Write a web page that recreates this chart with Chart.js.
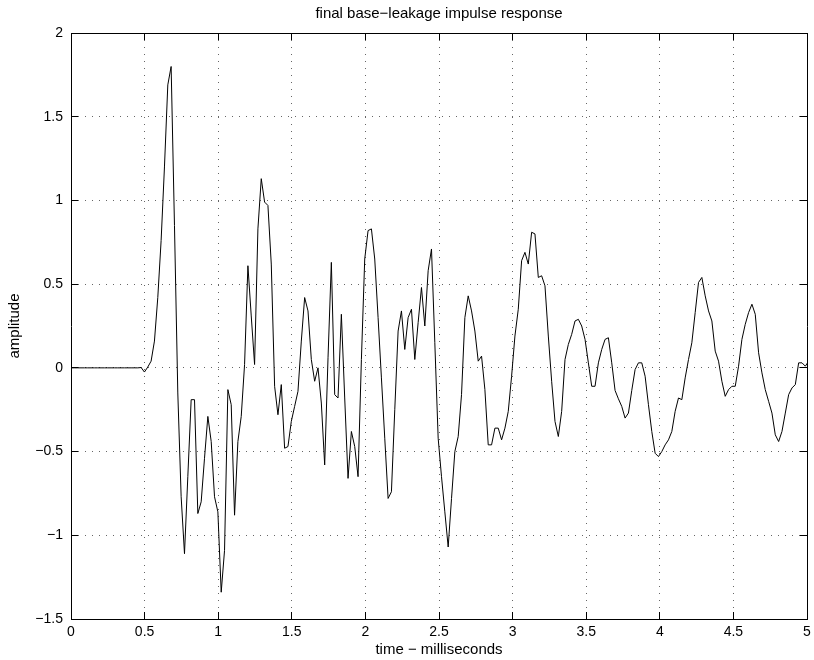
<!DOCTYPE html>
<html>
<head>
<meta charset="utf-8">
<title>final base-leakage impulse response</title>
<script src="https://cdn.jsdelivr.net/npm/chart.js@4/dist/chart.umd.min.js"></script>
<style>
	html, body { margin: 0; padding: 0; background: #fff; }
	canvas { display: block; }
</style>
</head>
<body>
<canvas id="impulse" width="814" height="660"></canvas>
<script type="text/javascript">
	// Отсчёты импульсной характеристики, частота дискретизации 44.1 кГц (шаг по времени в мс = 1 / 44.1)
	var sampleRateKHz = 44.1;
	var amplitude = [
		0, 0, 0, 0, 0, 0, 0, 0, 0, 0,
		0, 0, 0, 0, 0, 0, 0, 0, 0, 0,
		0, 0.002, -0.025, 0.005, 0.04, 0.16, 0.42, 0.76, 1.2, 1.69,
		1.80, 0.85, -0.15, -0.77, -1.11, -0.65, -0.19, -0.19, -0.87, -0.80,
		-0.54, -0.29, -0.44, -0.77, -0.86, -1.34, -1.09, -0.13, -0.22, -0.88,
		-0.44, -0.29, 0.02, 0.61, 0.31, 0.02, 0.83, 1.13, 0.99, 0.97,
		0.62, -0.11, -0.28, -0.10, -0.48, -0.47, -0.32, -0.23, -0.14, 0.16,
		0.42, 0.34, 0.05, -0.08, 0.0, -0.21, -0.58, 0.06, 0.63, -0.16,
		-0.18, 0.32, -0.18, -0.66, -0.38, -0.47, -0.65, 0.05, 0.65, 0.82,
		0.83, 0.65, 0.30, -0.06, -0.42, -0.78, -0.74, -0.25, 0.22, 0.34,
		0.11, 0.30, 0.35, 0.05, 0.27, 0.48, 0.25, 0.58, 0.71, 0.15,
		-0.42, -0.65, -0.86, -1.07, -0.78, -0.50, -0.41, -0.16, 0.30, 0.43,
		0.34, 0.22, 0.04, 0.07, -0.13, -0.46, -0.46, -0.36, -0.36, -0.43,
		-0.36, -0.26, -0.05, 0.19, 0.35, 0.64, 0.69, 0.62, 0.81, 0.80,
		0.54, 0.55, 0.49, 0.19, -0.08, -0.32, -0.41, -0.26, 0.05, 0.14,
		0.20, 0.28, 0.29, 0.25, 0.17, 0.03, -0.11, -0.11, 0.03, 0.11,
		0.17, 0.18, 0.03, -0.135, -0.185, -0.23, -0.30, -0.27, -0.135, -0.01,
		0.03, 0.03, -0.05, -0.22, -0.38, -0.51, -0.53, -0.50, -0.46, -0.43,
		-0.38, -0.26, -0.18, -0.19, -0.06, 0.05, 0.15, 0.33, 0.51, 0.54,
		0.43, 0.34, 0.28, 0.10, 0.04, -0.08, -0.17, -0.13, -0.11, -0.11,
		0.01, 0.17, 0.26, 0.33, 0.38, 0.32, 0.09, -0.03, -0.13, -0.20,
		-0.27, -0.40, -0.44, -0.38, -0.27, -0.16, -0.12, -0.10, 0.03, 0.03,
		0.01, 0.04
	];
	var xTicks = [0, 0.5, 1, 1.5, 2, 2.5, 3, 3.5, 4, 4.5, 5];
	var xTickLabels = ["0", "0.5", "1", "1.5", "2", "2.5", "3", "3.5", "4", "4.5", "5"];
	var yTicks = [-1.5, -1, -0.5, 0, 0.5, 1, 1.5, 2];
	var yTickLabels = ["\u22121.5", "\u22121", "\u22120.5", "0", "0.5", "1", "1.5", "2"];

	var points = amplitude.map(function(v, i){
		return {x: i / sampleRateKHz, y: v};
	});

	var family = "'Liberation Sans', Arial, Helvetica, sans-serif";
	var tickFont = {family: family, size: 14, weight: 'normal'};
	var labelFont = {family: family, size: 15, weight: 'normal'};

	function setTicks(list){
		return function(s){ s.ticks = list.map(function(v){ return {value: v}; }); };
	}
	// Размер оси фиксирован, лишние отступы под подписи убираем
	function fixSize(w, h){
		return function(s){
			if(w !== null) s.width = w;
			if(h !== null) s.height = h;
			s.paddingLeft = 0; s.paddingRight = 0;
			s.paddingTop = 0; s.paddingBottom = 0;
		};
	}

	// Рамка: сплошная линия оси и засечки внутрь (отрицательная длина), как в MATLAB
	var frameGrid = {drawOnChartArea: false, drawTicks: true, tickLength: -7, tickColor: "#000", tickWidth: 1, color: "#000"};
	var frameBorder = {display: true, color: "#000", width: 1};
	// Пунктирная сетка — на отдельных скрытых осях
	var dotGrid = {drawOnChartArea: true, drawTicks: false, color: "rgba(0,0,0,0.6)", lineWidth: 1};
	var dotBorder = {display: false, dash: [1, 6]};

	var impulseChart = new Chart(document.getElementById("impulse"), {
		type: 'line',
		data: {
			datasets: [{
				data: points,
				xAxisID: 'x',
				yAxisID: 'y',
				borderColor: "#000",
				borderWidth: 1,
				pointRadius: 0,
				tension: 0,
				fill: false
			}]
		},
		options: {
			responsive: false,
			animation: false,
			devicePixelRatio: 1,
			layout: {padding: {left: 0, right: 7, top: 0, bottom: 0}},
			scales: {
				xg: {
					type: 'linear', position: 'bottom', min: 0, max: 5,
					afterBuildTicks: setTicks(xTicks),
					afterFit: fixSize(null, 0),
					ticks: {display: false},
					grid: dotGrid,
					border: dotBorder
				},
				yg: {
					type: 'linear', position: 'left', min: -1.5, max: 2,
					afterBuildTicks: setTicks(yTicks),
					afterFit: fixSize(0, null),
					ticks: {display: false},
					grid: dotGrid,
					border: dotBorder
				},
				x: {
					type: 'linear',
					position: 'bottom',
					min: 0,
					max: 5,
					afterBuildTicks: setTicks(xTicks),
					afterFit: fixSize(null, 41),
					ticks: {
						color: "#000",
						font: tickFont,
						padding: 12,
						maxRotation: 0,
						autoSkip: false,
						callback: function(v, i){ return xTickLabels[i]; }
					},
					grid: frameGrid,
					border: frameBorder,
					title: {display: true, text: "time \u2212 milliseconds", color: "#000", font: labelFont, padding: {top: 0, bottom: 1}}
				},
				y: {
					type: 'linear',
					position: 'left',
					min: -1.5,
					max: 2,
					afterBuildTicks: setTicks(yTicks),
					afterFit: fixSize(71, null),
					ticks: {
						color: "#000",
						font: tickFont,
						padding: 15,
						autoSkip: false,
						callback: function(v, i){ return yTickLabels[i]; }
					},
					grid: frameGrid,
					border: frameBorder,
					title: {display: true, text: "amplitude", color: "#000", font: labelFont, padding: {top: 6, bottom: 0}}
				},
				x2: {
					type: 'linear', position: 'top', min: 0, max: 5,
					afterBuildTicks: setTicks(xTicks),
					afterFit: fixSize(null, 0),
					ticks: {display: false},
					grid: frameGrid,
					border: frameBorder
				},
				y2: {
					type: 'linear', position: 'right', min: -1.5, max: 2,
					afterBuildTicks: setTicks(yTicks),
					afterFit: fixSize(0, null),
					ticks: {display: false},
					grid: frameGrid,
					border: frameBorder
				}
			},
			plugins: {
				legend: {display: false},
				tooltip: {enabled: false},
				title: {
					display: true,
					text: "final base\u2212leakage impulse response",
					fullSize: false,
					color: "#000",
					font: labelFont,
					padding: {top: 5, bottom: 10}
				}
			}
		}
	});
</script>
</body>
</html>
